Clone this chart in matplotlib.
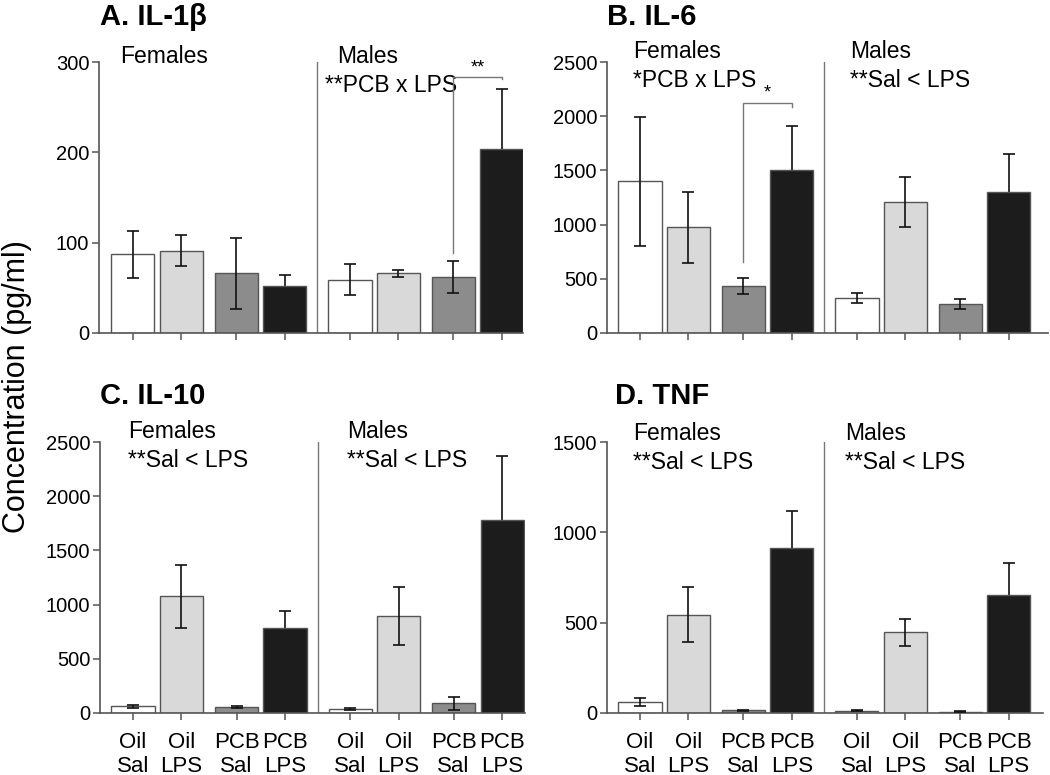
import matplotlib.pyplot as plt
import numpy as np

plt.rcParams['font.family'] = ['Liberation Sans', 'DejaVu Sans']

# Bar order: Females (Oil Sal, Oil LPS, PCB Sal, PCB LPS), Males (same)
groups = ["Oil\nSal", "Oil\nLPS", "PCB\nSal", "PCB\nLPS"] * 2
colors = ["white", "#d9d9d9", "#8c8c8c", "#1c1c1c"] * 2

il1b_mean = [87, 91, 66, 52, 59, 66, 62, 204]
il1b_err = [26, 17, 39, 12, 17, 4, 18, 66]

il6_mean = [1400, 975, 435, 1505, 325, 1210, 268, 1305]
il6_err = [595, 325, 75, 405, 47, 232, 47, 345]

il10_mean = [62, 1075, 52, 780, 40, 895, 89, 1780]
il10_err = [15, 287, 10, 162, 8, 265, 60, 595]

tnf_mean = [60, 545, 15, 914, 12, 446, 8, 652]
tnf_err = [24, 150, 3, 203, 3, 75, 2, 180]

# bar centers (bar width = 1)
pos = np.array([0, 1.1, 2.35, 3.45, 4.93, 6.03, 7.28, 8.38])
divider = 4.19

panels = [
    dict(title="A. IL-1β", mean=il1b_mean, err=il1b_err, ylim=300, yticks=[0, 100, 200, 300],
         rect=(99, 62, 523, 333), title_xy=(100, 17), xlim=(-0.77, 8.86),
         fem=("Females", ""), male=("Males", "**PCB x LPS"),
         fem_x=(-0.3, -0.3), male_x=(4.64, 4.36), lines_y=(1.022, 0.915), xlabels=False,
         bracket=(6, 89, 283, 281, "**")),
    dict(title="B. IL-6", mean=il6_mean, err=il6_err, ylim=2500, yticks=[0, 500, 1000, 1500, 2000, 2500],
         rect=(607, 62, 1048, 333), title_xy=(607, 17), xlim=(-0.75, 9.27),
         fem=("Females", "*PCB x LPS"), male=("Males", "**Sal < LPS"),
         fem_x=(-0.16, -0.16), male_x=(4.77, 4.77), lines_y=(1.037, 0.93), xlabels=False,
         bracket=(2, 658, 2125, 2088, "*")),
    dict(title="C. IL-10", mean=il10_mean, err=il10_err, ylim=2500, yticks=[0, 500, 1000, 1500, 2000, 2500],
         rect=(100, 442, 525, 713), title_xy=(100, 396), xlim=(-0.75, 8.9),
         fem=("Females", "**Sal < LPS"), male=("Males", "**Sal < LPS"),
         fem_x=(-0.11, -0.11), male_x=(4.86, 4.86), lines_y=(1.037, 0.932), xlabels=True,
         bracket=None),
    dict(title="D. TNF", mean=tnf_mean, err=tnf_err, ylim=1500, yticks=[0, 500, 1000, 1500],
         rect=(607, 442, 1043, 713), title_xy=(615, 396), xlim=(-0.75, 9.16),
         fem=("Females", "**Sal < LPS"), male=("Males", "**Sal < LPS"),
         fem_x=(-0.16, -0.16), male_x=(4.66, 4.66), lines_y=(1.03, 0.925), xlabels=True,
         bracket=None),
]

W, H = 1050, 775
fig = plt.figure(figsize=(W / 100, H / 100), dpi=100)

for p in panels:
    x0, y0, x1, y1 = p["rect"]
    ax = fig.add_axes([x0 / W, 1 - y1 / H, (x1 - x0) / W, (y1 - y0) / H])
    ax.bar(pos, p["mean"], width=0.98, color=colors, edgecolor="#555555", linewidth=1.0, zorder=2)
    mean = np.array(p["mean"])
    err = np.array(p["err"])
    dark = np.array([c == "#1c1c1c" for c in colors])
    # error bars on top of the lighter bars, behind the black bars
    ax.errorbar(pos[~dark], mean[~dark], yerr=err[~dark], fmt="none", ecolor="#111111",
                elinewidth=1.2, capsize=4, capthick=1.2, zorder=3)
    ax.errorbar(pos[dark], mean[dark], yerr=err[dark], fmt="none", ecolor="#111111",
                elinewidth=1.2, capsize=4, capthick=1.2, zorder=1.5)
    ax.axvline(divider, color="#777777", linewidth=1.0, zorder=1)

    ax.set_xlim(*p["xlim"])
    ax.set_ylim(0, p["ylim"])
    ax.set_yticks(p["yticks"])
    ax.set_xticks(pos)
    if p["xlabels"]:
        ax.set_xticklabels(groups, fontsize=16, linespacing=1.15)
    else:
        ax.set_xticklabels([])
    ax.tick_params(axis="y", labelsize=14.5, length=5, width=1.1, color="#555555", pad=2)
    ax.tick_params(axis="x", length=5, width=1.1, color="#555555", pad=9)
    for s in ["top", "right"]:
        ax.spines[s].set_visible(False)
    for s in ["left", "bottom"]:
        ax.spines[s].set_color("#555555")
        ax.spines[s].set_linewidth(1.2)

    trans = ax.get_xaxis_transform()
    ya, yb = p["lines_y"]
    ax.text(p["fem_x"][0], ya, p["fem"][0], transform=trans, fontsize=16.5, va="center", ha="left")
    ax.text(p["fem_x"][1], yb, p["fem"][1], transform=trans, fontsize=16.5, va="center", ha="left")
    ax.text(p["male_x"][0], ya, p["male"][0], transform=trans, fontsize=16.5, va="center", ha="left")
    ax.text(p["male_x"][1], yb, p["male"][1], transform=trans, fontsize=16.5, va="center", ha="left")

    if p["bracket"] is not None:
        i, y_low, y_top, y_right, star = p["bracket"]
        xl, xr = pos[i], pos[i + 1]
        ax.plot([xl, xl, xr, xr], [y_low, y_top, y_top, y_right], color="#777777",
                linewidth=1.0, clip_on=False, zorder=4)
        ax.text((xl + xr) / 2, y_top + p["ylim"] * 0.005, star, ha="center", va="bottom",
                fontsize=13, clip_on=False)

    fig.text(p["title_xy"][0] / W, 1 - p["title_xy"][1] / H, p["title"], fontsize=21,
             fontweight="bold", ha="left", va="center")

fig.text(17 / W, 1 - 387 / H, "Concentration (pg/ml)", rotation=90, fontsize=22,
         ha="center", va="center")

fig.savefig("out.png", dpi=100)
